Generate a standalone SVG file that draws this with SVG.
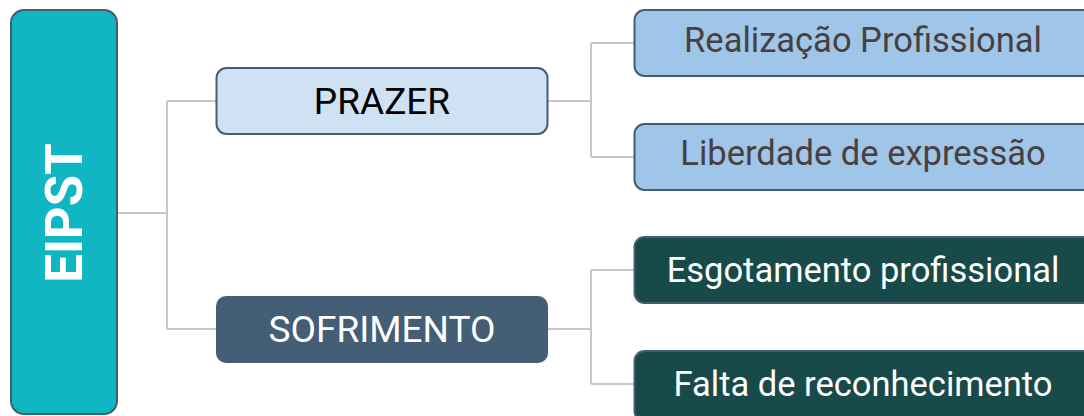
<svg xmlns="http://www.w3.org/2000/svg" width="1084" height="416" viewBox="0 0 1084 416">
<style>
.conn{fill:none;stroke:#c8c8c8;stroke-width:2}
.box{stroke:#455d74;stroke-width:2}
text{font-family:Roboto,"Liberation Sans",sans-serif;text-anchor:middle}
.mid{font-size:37px}
.leaf{font-size:34.5px}
</style>
<rect width="1084" height="416" fill="#ffffff"/>
<g id="connectors">
<path class="conn" d="M117 213 H167 M167 101 V329 M167 101 H217 M167 329 H217"/>
<path class="conn" d="M548 101 H591 M591 43 V157 M591 43 H635 M591 157 H635"/>
<path class="conn" d="M548 329 H591 M591 270 V384 M591 270 H635 M591 384 H635"/>
</g>
<g id="eipst">
<rect class="box" x="11" y="10" width="106" height="404" rx="13" fill="#10b6c2"/>
<text transform="translate(82,213) rotate(-90)" font-size="51" font-weight="bold" fill="#ffffff">EIPST</text>
</g>
<g id="prazer">
<rect class="box" x="216.5" y="68" width="331" height="66" rx="10" fill="#cfe2f3"/>
<text class="mid" x="382" y="114" fill="#000000">PRAZER</text>
</g>
<g id="sofrimento">
<rect x="216" y="296" width="332" height="67" rx="10" fill="#445e76"/>
<text class="mid" x="382" y="342" fill="#ffffff">SOFRIMENTO</text>
</g>
<g id="realizacao">
<rect class="box" x="634.5" y="10" width="460" height="66" rx="10" fill="#9fc5e8"/>
<text class="leaf" x="863" y="52" fill="#4a3f3f">Realização Profissional</text>
</g>
<g id="liberdade">
<rect class="box" x="634.5" y="124" width="460" height="66" rx="10" fill="#9fc5e8"/>
<text class="leaf" x="863" y="165" fill="#4a3f3f">Liberdade de expressão</text>
</g>
<g id="esgotamento">
<rect class="box" x="634.5" y="237" width="460" height="66" rx="10" fill="#194a4a" stroke="#5a6f80"/>
<text class="leaf" x="863" y="282" fill="#ffffff">Esgotamento profissional</text>
</g>
<g id="falta">
<rect class="box" x="634.5" y="351" width="460" height="70" rx="10" fill="#194a4a" stroke="#5a6f80"/>
<text class="leaf" x="863" y="396" fill="#ffffff">Falta de reconhecimento</text>
</g>
</svg>
